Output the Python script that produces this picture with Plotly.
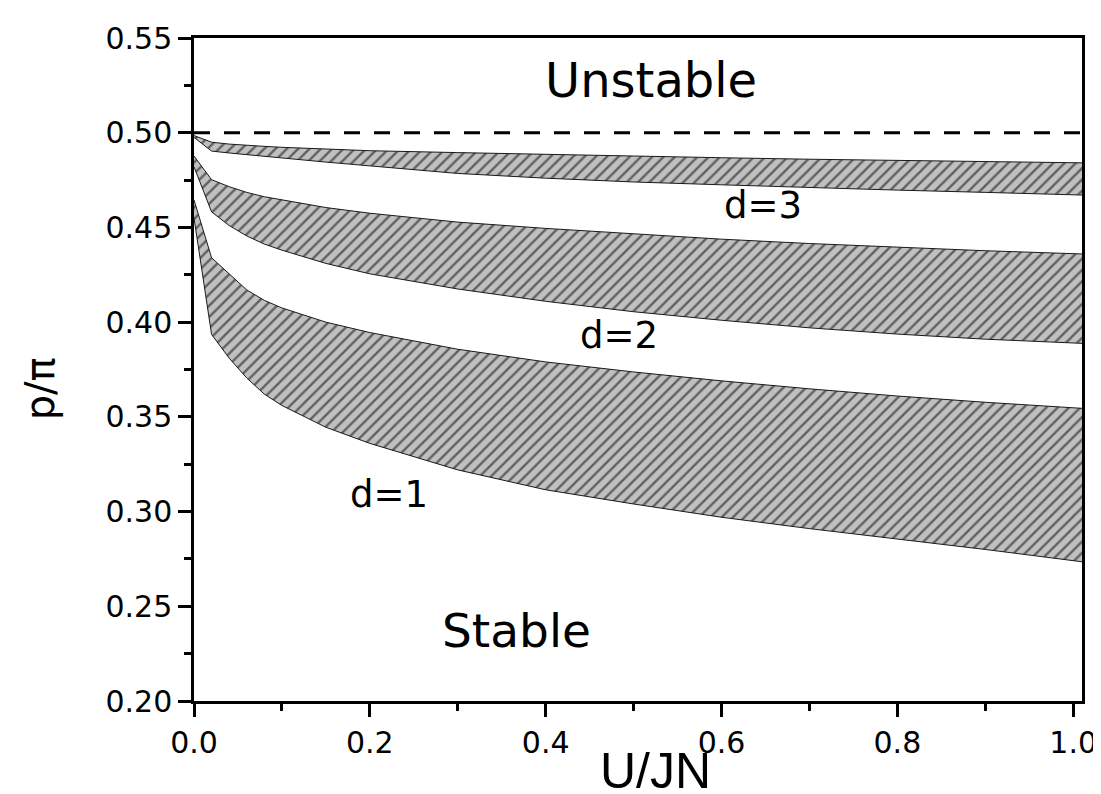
import plotly.graph_objects as go

# shared x grid (U/JN)
x_vals = [0, 0.02, 0.04, 0.06, 0.08, 0.1, 0.15, 0.2, 0.3, 0.4, 0.5, 0.6, 0.7, 0.8, 0.9, 1.01]

d3_upper = [0.4985, 0.4950, 0.4940, 0.4933, 0.4928, 0.4923, 0.4913, 0.4905, 0.4895, 0.4885, 0.4877, 0.4868, 0.4860, 0.4853, 0.4847, 0.4841]
d3_lower = [0.4975, 0.4903, 0.4893, 0.4884, 0.4875, 0.4865, 0.4845, 0.4825, 0.4785, 0.4760, 0.4740, 0.4725, 0.4710, 0.4697, 0.4685, 0.4671]

d2_upper = [0.4877, 0.4752, 0.4715, 0.4685, 0.4662, 0.4645, 0.4605, 0.4575, 0.4528, 0.4495, 0.4465, 0.4438, 0.4415, 0.4395, 0.4377, 0.4360]
d2_lower = [0.4820, 0.4582, 0.4510, 0.4455, 0.4412, 0.4380, 0.4310, 0.4255, 0.4175, 0.4110, 0.4055, 0.4010, 0.3970, 0.3937, 0.3910, 0.3888]

d1_upper = [0.4645, 0.4340, 0.4255, 0.4170, 0.4115, 0.4075, 0.4000, 0.3945, 0.3857, 0.3790, 0.3737, 0.3690, 0.3648, 0.3610, 0.3577, 0.3545]
d1_lower = [0.4550, 0.3935, 0.3810, 0.3705, 0.3620, 0.3560, 0.3445, 0.3360, 0.3220, 0.3115, 0.3040, 0.2970, 0.2910, 0.2855, 0.2800, 0.2735]

threshold_y = 0.5
x_range = [0, 1.01]
y_range = [0.20, 0.55]
x_ticks = [0.0, 0.2, 0.4, 0.6, 0.8, 1.0]
y_ticks = [0.20, 0.25, 0.30, 0.35, 0.40, 0.45, 0.50, 0.55]

labels = [
    ("Unstable", 0.52, 0.528, 48),
    ("Stable", 0.367, 0.237, 47),
    ("d=1", 0.222, 0.309, 37),
    ("d=2", 0.483, 0.393, 37),
    ("d=3", 0.647, 0.4617, 37),
]

FONT = "'DejaVu Sans', sans-serif"
FONT_T = "Arial, 'Liberation Sans', sans-serif"

fig = go.Figure()

for upper, lower in [(d1_upper, d1_lower), (d2_upper, d2_lower), (d3_upper, d3_lower)]:
    fig.add_trace(go.Scatter(x=x_vals, y=lower, mode="lines",
                             line=dict(color="#1a1a1a", width=1), showlegend=False, hoverinfo="skip"))
    fig.add_trace(go.Scatter(x=x_vals, y=upper, mode="lines", fill="tonexty",
                             fillcolor="#c0c0c0",
                             fillpattern=dict(shape="/", bgcolor="#c0c0c0", fgcolor="#000",
                                              size=8, solidity=0.3),
                             line=dict(color="#1a1a1a", width=1), showlegend=False, hoverinfo="skip"))

fig.add_trace(go.Scatter(x=x_range, y=[threshold_y, threshold_y], mode="lines",
                         line=dict(color="black", width=3, dash="16px,14px"),
                         showlegend=False, hoverinfo="skip"))

for text, xv, yv, sz in labels:
    fig.add_annotation(x=xv, y=yv, text=text, showarrow=False,
                       font=dict(family=FONT, size=sz, color="black"))

# axis titles as annotations for precise placement
fig.add_annotation(xref="paper", yref="paper", x=0.5195, y=-0.106, text="U/JN",
                   showarrow=False, xanchor="center", yanchor="middle",
                   font=dict(family=FONT_T, size=50, color="black"))
fig.add_annotation(xref="paper", yref="paper", x=-0.173, y=0.4706, text="p/π",
                   showarrow=False, xanchor="center", yanchor="middle", textangle=-90,
                   font=dict(family=FONT, size=40, color="black"))

axis_common = dict(
    showgrid=False, zeroline=False, showline=True, linecolor="black", linewidth=2.5,
    mirror=True, ticks="outside", ticklen=13, tickwidth=2.5, tickcolor="black",
    tickfont=dict(family=FONT, size=30, color="black"),
)

fig.update_xaxes(range=x_range, tickvals=x_ticks, ticktext=[f"{v:.1f}" for v in x_ticks],
                 minor=dict(dtick=0.1, ticklen=7, tickwidth=2.5, tickcolor="black", ticks="outside"),
                 **axis_common)
fig.update_yaxes(range=y_range, tickvals=y_ticks, ticktext=[f"{v:.2f}" for v in y_ticks],
                 minor=dict(dtick=0.025, tick0=0.2, ticklen=7, tickwidth=2.5, tickcolor="black", ticks="outside"),
                 **axis_common)

fig.update_layout(width=1101, height=794, plot_bgcolor="white", paper_bgcolor="white",
                  margin=dict(l=186, r=18, t=24, b=101))

fig.write_html("out.html")
